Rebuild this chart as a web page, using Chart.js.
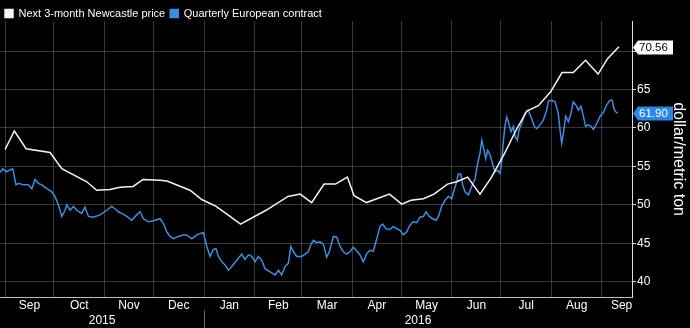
<!DOCTYPE html>
<html><head><meta charset="utf-8">
<script src="https://cdn.jsdelivr.net/npm/chart.js@4.4.1/dist/chart.umd.min.js"></script>
<style>html,body{margin:0;padding:0;background:#000;overflow:hidden}#wrap{width:690px;height:328px;position:relative;background:#000}</style>
</head><body><div id="wrap"><canvas id="c" width="690" height="328"></canvas></div>
<script>
// x values are days counted from 1 Sep 2015
const seriesNames = ['Next 3-month Newcastle price', 'Quarterly European contract'];
const whiteDays = [0,5.7,12.9,27.6,34.8,50.1,56.2,64.4,70.5,78.5,84.6,95.0,99.3,113.4,120.6,129.4,137.3,144.4,160.0,173.5,180.9,188.0,195.6,202.6,209.9,214.0,221.6,235.7,243.2,248.9,256.5,263.0,271.3,276.9,283.6,291.2,298.0,306.5,313.3,319.9,327.0,334.5,341.5,348.4,355.9,363.6,369.4,376.4];
const whiteValues = [57.2,59.6,57.3,56.8,54.7,53.0,51.9,52.0,52.3,52.4,53.3,53.2,53.1,51.9,50.7,49.8,48.6,47.5,49.3,51.1,51.4,50.3,52.7,52.7,53.6,51.2,50.3,51.4,50.1,50.6,50.8,51.4,52.7,53.0,53.6,51.4,53.5,56.8,59.7,62.2,62.9,64.7,67.2,67.2,68.8,67.0,69.0,70.56];
const blueDays = [-3.1,-1.4,0.6,2.6,4.7,6.7,8.2,11.2,14.3,16.4,18.4,20.4,22.5,25.6,28.6,30.6,32.7,34.8,36.8,37.8,39.9,41.9,44.0,47.0,49.0,51.1,54.1,58.2,62.4,65.4,67.4,69.5,71.5,74.6,77.7,80.7,82.8,84.8,87.9,92.0,95.0,97.1,99.1,101.2,103.2,106.2,109.3,111.4,114.5,117.5,121.6,123.7,125.7,127.7,129.4,130.8,132.9,134.9,136.9,139.0,142.1,145.1,147.1,149.2,151.3,153.3,155.3,157.4,159.4,162.5,165.5,167.6,169.6,171.7,173.7,175.2,176.8,178.8,181.9,183.9,186.0,187.0,189.0,191.1,193.1,195.1,197.2,198.8,201.3,203.4,205.4,207.4,209.5,211.5,213.5,215.6,217.7,219.7,221.8,223.8,225.8,227.9,229.9,231.6,233.6,236.0,238.1,240.1,242.2,244.2,246.3,248.3,250.3,252.4,254.4,256.5,258.1,260.1,262.2,264.2,265.7,267.7,269.8,271.8,273.9,275.3,276.9,277.9,279.4,280.6,282.0,284.1,286.1,288.2,289.8,291.2,292.3,293.7,294.7,295.9,297.4,298.8,300.4,302.1,303.5,304.5,305.5,306.5,307.6,308.6,310.2,311.6,312.7,314.1,315.1,316.8,318.8,320.8,322.9,324.5,326.0,328.0,330.0,332.1,333.1,335.2,337.2,339.2,340.3,341.3,342.3,343.8,345.4,347.0,348.4,350.5,351.5,353.1,354.6,356.0,357.6,359.3,360.7,362.8,364.8,366.8,368.9,370.9,372.3,373.3,374.4,375.6];
const blueValues = [54.2,54.7,54.3,54.5,54.7,52.6,52.8,52.6,52.6,52.1,53.3,52.8,52.6,52.1,51.7,51.1,50.0,48.5,49.3,50.0,49.3,49.8,49.3,48.9,49.7,48.5,48.4,48.7,49.3,49.8,49.5,49.1,48.9,48.5,48.0,48.7,49.1,48.2,47.8,48.0,48.2,47.6,46.5,45.9,45.6,45.9,46.1,46.1,45.6,46.1,46.4,44.6,43.3,44.2,44.3,43.3,42.6,42.2,41.5,42.0,42.8,43.6,42.9,43.5,43.3,42.6,43.3,42.8,41.7,41.3,40.9,41.5,40.9,42.0,42.4,44.6,43.9,43.3,43.3,43.6,43.9,44.6,45.4,45.1,45.2,44.9,43.2,43.9,45.9,45.8,44.6,43.9,43.6,43.9,44.5,44.0,43.5,42.6,43.7,44.1,44.0,45.6,47.2,47.5,46.9,46.8,47.2,46.9,46.7,46.1,46.5,47.4,47.8,47.7,48.4,48.5,49.1,48.5,48.2,48.0,48.5,49.8,50.6,51.1,50.8,51.9,53.0,54.0,54.0,52.6,51.7,51.3,52.4,53.4,55.4,56.7,58.4,57.1,56.0,57.1,56.5,55.4,54.3,54.5,54.1,55.6,58.2,60.2,61.4,60.8,59.5,60.2,58.9,58.4,59.7,60.6,61.9,62.3,61.2,60.2,59.9,60.4,61.0,62.3,63.5,63.6,63.4,61.9,59.7,58.0,59.3,61.5,60.8,61.9,63.4,62.8,62.3,62.8,61.5,60.2,60.4,60.2,59.8,60.6,61.5,62.0,63.0,63.6,63.6,62.5,62.1,61.9];
const monthStartDays = [0,30,61,91,122,153,182,213,243,274,304,335,366];
const monthLabelDays = [15,45.5,76,106.5,137.5,167.5,197.5,228,258.5,289,319.5,350.5,378];
const monthLabels = ['Sep','Oct','Nov','Dec','Jan','Feb','Mar','Apr','May','Jun','Jul','Aug','Sep'];
const yearLabelDays = [59.5,253.2];
const yearLabels = ['2015','2016'];
const yearBoundaryDay = 122;
const yTicks = [40,45,50,55,60,65,70];
const xMin = -3.1, xMax = 384.4;
const yMin = 38, yMax = 73.9;

const FONT = "'Liberation Sans', Arial, sans-serif";
Chart.defaults.font.family = FONT;
Chart.defaults.color = '#fff';
const gridColor = 'rgba(255,255,255,0.22)';
const lineColors = ['#f4f4f4', '#3f8ce0'];
const boxFill = ['#ffffff', '#2f86e0'];
const boxText = ['#000000', '#ffffff'];

function pts(xs, ys){ return xs.map((x,i)=>({x:x, y:ys[i]})); }

const legendHeightPlugin = {
  id: 'legendHeight',
  beforeLayout(chart){
    const lg = chart.legend;
    if (lg && !lg._patched) {
      const orig = lg.fit;
      lg.fit = function(){ orig.call(this); this.height = 18; };
      lg._patched = true;
    }
  }
};

const decorPlugin = {
  id: 'decor',
  afterDraw(chart){
    const ctx = chart.ctx, ys = chart.scales.y, xs = chart.scales.x, area = chart.chartArea;
    // year divider below the month labels
    const px = Math.round(xs.getPixelForValue(yearBoundaryDay)) + 0.5;
    ctx.save();
    ctx.strokeStyle = '#6a6a6a';
    ctx.lineWidth = 1;
    ctx.beginPath();
    ctx.moveTo(px, area.bottom + 13);
    ctx.lineTo(px, chart.height);
    ctx.stroke();
    ctx.restore();
    chart.data.datasets.forEach((ds, i) => {
      const v = ds.data[ds.data.length-1].y;
      const py = Math.round(ys.getPixelForValue(v)) + 0.5;
      const x0 = area.right + 1, h = 14, w = 35;
      ctx.save();
      ctx.fillStyle = boxFill[i];
      ctx.beginPath();
      ctx.moveTo(x0, py);
      ctx.lineTo(x0 + 5, py - h/2);
      ctx.lineTo(x0 + 5 + w, py - h/2);
      ctx.lineTo(x0 + 5 + w, py + h/2);
      ctx.lineTo(x0 + 5, py + h/2);
      ctx.closePath();
      ctx.fill();
      ctx.fillStyle = boxText[i];
      ctx.font = '11.5px ' + FONT;
      ctx.textBaseline = 'middle';
      ctx.textAlign = 'left';
      ctx.fillText(v.toFixed(2), x0 + 6, py + 0.5);
      ctx.restore();
    });
  }
};

new Chart(document.getElementById('c'), {
  type: 'line',
  data: {
    datasets: [
      { label: seriesNames[0], data: pts(whiteDays, whiteValues), borderColor: lineColors[0], backgroundColor: lineColors[0], borderWidth: 1.5, pointRadius: 0, tension: 0 },
      { label: seriesNames[1], data: pts(blueDays, blueValues), borderColor: lineColors[1], backgroundColor: lineColors[1], borderWidth: 1.5, pointRadius: 0, tension: 0 }
    ]
  },
  options: {
    responsive: false,
    animation: false,
    layout: { padding: { top: 3, left: 0, right: 0, bottom: 0 } },
    plugins: {
      legend: {
        position: 'top', align: 'start',
        labels: { color: '#fff', font: { size: 11, family: FONT }, boxWidth: 8, boxHeight: 8, padding: 5 }
      },
      tooltip: { enabled: false }
    },
    scales: {
      x: {
        type: 'linear', position: 'bottom', weight: 0, min: xMin, max: xMax,
        afterBuildTicks: s => { s.ticks = monthStartDays.map(v => ({ value: v })); },
        grid: { color: gridColor, drawTicks: false, lineWidth: 1 },
        border: { display: true, color: '#bdbdbd', width: 1 },
        ticks: { display: false }
      },
      xm: {
        type: 'linear', position: 'bottom', weight: 1, min: xMin, max: xMax,
        afterBuildTicks: s => { s.ticks = monthLabelDays.map(v => ({ value: v })); },
        grid: { display: false, drawTicks: false },
        border: { display: false },
        ticks: { color: '#fff', font: { size: 12 }, padding: 1, maxRotation: 0, autoSkip: false,
                 callback: (v, i) => monthLabels[i] }
      },
      xy: {
        type: 'linear', position: 'bottom', weight: 2, min: xMin, max: xMax,
        afterBuildTicks: s => { s.ticks = yearLabelDays.map(v => ({ value: v })); },
        grid: { display: false, drawTicks: false },
        border: { display: false },
        ticks: { color: '#fff', font: { size: 12 }, padding: 0, maxRotation: 0, autoSkip: false,
                 callback: (v, i) => yearLabels[i] }
      },
      y: {
        type: 'linear', position: 'right', min: yMin, max: yMax,
        afterBuildTicks: s => { s.ticks = yTicks.map(v => ({ value: v })); },
        afterFit: s => { s.width = 58; },
        grid: { color: gridColor, drawTicks: true, tickLength: 4, tickColor: '#dddddd' },
        border: { display: true, color: '#dddddd', width: 1 },
        ticks: { color: '#fff', font: { size: 12 }, padding: 1 },
        title: { display: true, text: 'dollar/metric ton', color: '#fff', font: { size: 16 }, padding: { top: 2, bottom: 0 } }
      }
    }
  },
  plugins: [legendHeightPlugin, decorPlugin]
});
</script>
</body></html>
